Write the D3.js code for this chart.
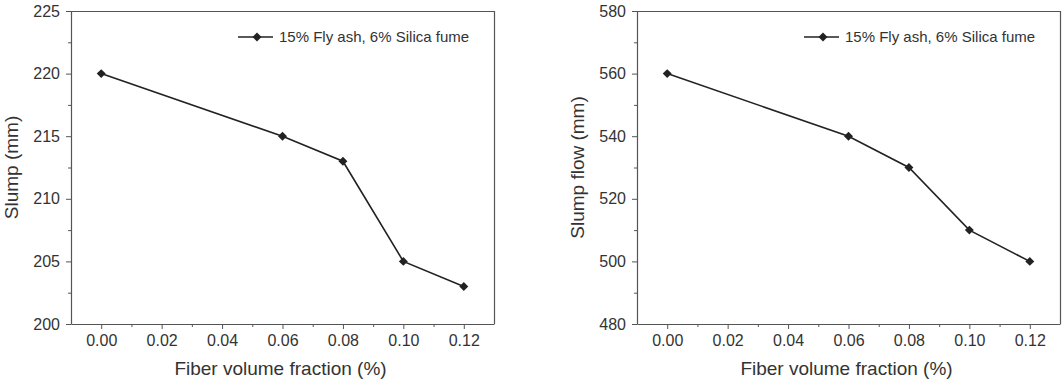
<!DOCTYPE html>
<html>
<head>
<meta charset="utf-8">
<script src="https://cdn.jsdelivr.net/npm/d3@7/dist/d3.min.js"></script>
<style>
  html, body { margin: 0; padding: 0; background: #fff; }
  svg { display: block; }
  text { font-family: "Liberation Sans", Arial, sans-serif; fill: #333; }
</style>
</head>
<body>
<svg id="chart" width="1062" height="383"></svg>
<script>
// ---- data ----
const fiberFraction = [0.00, 0.06, 0.08, 0.10, 0.12];
const slumpValues = [220, 215, 213, 205, 203];
const slumpFlowValues = [560, 540, 530, 510, 500];
const xTickValues = [0.00, 0.02, 0.04, 0.06, 0.08, 0.10, 0.12];
const xMinorTicks = [0.01, 0.03, 0.05, 0.07, 0.09, 0.11];
const slumpTicks = [200, 205, 210, 215, 220, 225];
const slumpMinorTicks = [202.5, 207.5, 212.5, 217.5, 222.5];
const flowTicks = [480, 500, 520, 540, 560, 580];
const flowMinorTicks = [490, 510, 530, 550, 570];
const seriesLabel = "15% Fly ash, 6% Silica fume";
const xTitle = "Fiber volume fraction (%)";
const yTitles = ["Slump (mm)", "Slump flow (mm)"];

// ---- layout ----
const panels = [
  { left: 71, right: 494, top: 11, bottom: 324, xDomain: [-0.01, 0.13], yDomain: [200, 225],
    values: slumpValues, yTicks: slumpTicks, yMinor: slumpMinorTicks, yTitle: yTitles[0], fmt: d3.format("d") },
  { left: 637, right: 1060, top: 11, bottom: 324, xDomain: [-0.01, 0.13], yDomain: [480, 580],
    values: slumpFlowValues, yTicks: flowTicks, yMinor: flowMinorTicks, yTitle: yTitles[1], fmt: d3.format("d") }
];

const svg = d3.select("#chart");
const axisColor = "#555";
const lineColor = "#222";

panels.forEach(p => {
  const x = d3.scaleLinear().domain(p.xDomain).range([p.left, p.right]);
  const y = d3.scaleLinear().domain(p.yDomain).range([p.bottom, p.top]);
  const g = svg.append("g");

  // frame top & right
  g.append("line").attr("x1", p.left).attr("x2", p.right + 0.5).attr("y1", p.top + 0.5).attr("y2", p.top + 0.5)
    .attr("stroke", axisColor).attr("stroke-width", 1.2);
  g.append("line").attr("x1", p.right + 0.5).attr("x2", p.right + 0.5).attr("y1", p.top).attr("y2", p.bottom)
    .attr("stroke", axisColor).attr("stroke-width", 1.2);

  // x axis major
  const xAxis = g.append("g").attr("transform", `translate(0,${p.bottom})`)
    .call(d3.axisBottom(x).tickValues(xTickValues).tickFormat(d3.format(".2f")).tickSize(5).tickSizeOuter(0).tickPadding(6));
  xAxis.select(".domain").attr("stroke", axisColor).attr("stroke-width", 1.2);
  xAxis.selectAll(".tick line").attr("stroke", axisColor);
  xAxis.selectAll(".tick text").style("font-size", "16px").attr("fill", "#333").attr("font-family", "Liberation Sans, Arial, sans-serif");
  // x minor
  const xMinor = g.append("g").attr("transform", `translate(0,${p.bottom})`)
    .call(d3.axisBottom(x).tickValues(xMinorTicks).tickFormat("").tickSize(3).tickSizeOuter(0));
  xMinor.select(".domain").remove();
  xMinor.selectAll(".tick line").attr("stroke", axisColor);

  // y axis major
  const yAxis = g.append("g").attr("transform", `translate(${p.left},0)`)
    .call(d3.axisLeft(y).tickValues(p.yTicks).tickFormat(p.fmt).tickSize(5).tickSizeOuter(0).tickPadding(6));
  yAxis.select(".domain").attr("stroke", axisColor).attr("stroke-width", 1.2);
  yAxis.selectAll(".tick line").attr("stroke", axisColor);
  yAxis.selectAll(".tick text").style("font-size", "16px").attr("fill", "#333").attr("font-family", "Liberation Sans, Arial, sans-serif");
  const yMinor = g.append("g").attr("transform", `translate(${p.left},0)`)
    .call(d3.axisLeft(y).tickValues(p.yMinor).tickFormat("").tickSize(3).tickSizeOuter(0));
  yMinor.select(".domain").remove();
  yMinor.selectAll(".tick line").attr("stroke", axisColor);

  // titles
  g.append("text").attr("x", (p.left + p.right) / 2 - 2).attr("y", 375)
    .attr("text-anchor", "middle").style("font-size", "19px").text(xTitle);
  g.append("text")
    .attr("transform", `translate(${p.left - 53},${(p.top + p.bottom) / 2}) rotate(-90)`)
    .attr("text-anchor", "middle").style("font-size", "19px").text(p.yTitle);

  // series
  const pts = fiberFraction.map((f, i) => [f, p.values[i]]);
  g.append("path").datum(pts)
    .attr("d", d3.line().x(d => x(d[0])).y(d => y(d[1])))
    .attr("fill", "none").attr("stroke", lineColor).attr("stroke-width", 1.6);
  const diamond = d3.symbol().type(d3.symbolSquare).size(40);
  g.selectAll(".pt").data(pts).enter().append("path")
    .attr("d", diamond)
    .attr("transform", d => `translate(${x(d[0])},${y(d[1])}) rotate(45)`)
    .attr("fill", lineColor);

  // legend
  const ly = 37;
  g.append("line").attr("x1", p.left + 167).attr("x2", p.left + 202).attr("y1", ly).attr("y2", ly)
    .attr("stroke", lineColor).attr("stroke-width", 1.6);
  g.append("path").attr("d", diamond).attr("transform", `translate(${p.left + 186},${ly}) rotate(45)`).attr("fill", lineColor);
  g.append("text").attr("x", p.left + 208).attr("y", ly).attr("dy", "0.35em")
    .style("font-size", "15px").text(seriesLabel);
});
</script>
</body>
</html>
